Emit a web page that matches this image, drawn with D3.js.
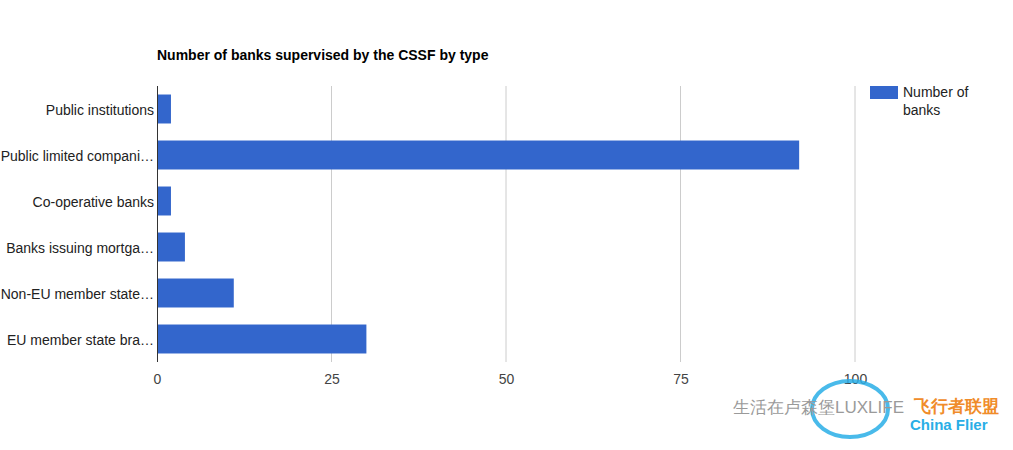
<!DOCTYPE html>
<html>
<head>
<meta charset="utf-8">
<script src="https://cdn.jsdelivr.net/npm/d3@7"></script>
<style>
  body { margin: 0; background: #fff; }
  text { font-family: Arial, "Liberation Sans", sans-serif; }
</style>
</head>
<body>
<div id="chart"></div>
<script>
const categories = [
  "Public institutions",
  "Public limited companies",
  "Co-operative banks",
  "Banks issuing mortgage bonds",
  "Non-EU member state branches",
  "EU member state branches"
];
const shownLabels = [
  "Public institutions",
  "Public limited compani…",
  "Co-operative banks",
  "Banks issuing mortga…",
  "Non-EU member state…",
  "EU member state bra…"
];
const banks = [2, 92, 2, 4, 11, 30];
const xTicks = [0, 25, 50, 75, 100];

const dimensions = {
  width: 1013,
  height: 450,
  margin: { top: 86, left: 157 },
  boundedWidth: 698,
  boundedHeight: 276,
};

const svg = d3.select("#chart")
  .append("svg")
  .attr("width", dimensions.width)
  .attr("height", dimensions.height);

svg.append("text")
  .attr("x", 157)
  .attr("y", 60)
  .attr("font-size", 14)
  .attr("font-weight", "bold")
  .attr("fill", "#000")
  .text("Number of banks supervised by the CSSF by type");

const bounds = svg.append("g")
  .attr("transform", `translate(${dimensions.margin.left},${dimensions.margin.top})`);

const xScale = d3.scaleLinear()
  .domain([0, 100])
  .range([0, dimensions.boundedWidth]);

const yScale = d3.scaleBand()
  .domain(categories)
  .range([0, dimensions.boundedHeight])
  .paddingInner(0.37)
  .paddingOuter(0.185);

// gridlines
bounds.selectAll(".grid")
  .data(xTicks.slice(1))
  .join("line")
  .attr("x1", d => xScale(d))
  .attr("x2", d => xScale(d))
  .attr("y1", 0)
  .attr("y2", dimensions.boundedHeight)
  .attr("stroke", "#cccccc")
  .attr("stroke-width", 1);

bounds.selectAll(".bar")
  .data(banks)
  .join("rect")
  .attr("x", xScale(0))
  .attr("y", (d, i) => yScale(categories[i]))
  .attr("width", d => xScale(d) - xScale(0))
  .attr("height", yScale.bandwidth())
  .attr("fill", "#3366cc");

// baseline
bounds.append("line")
  .attr("x1", 0.5).attr("x2", 0.5)
  .attr("y1", 0).attr("y2", dimensions.boundedHeight)
  .attr("stroke", "#333")
  .attr("stroke-width", 1);

const xAxis = bounds.append("g")
  .attr("transform", `translate(0,${dimensions.boundedHeight})`)
  .call(d3.axisBottom(xScale).tickValues(xTicks).tickSize(0).tickPadding(12));
xAxis.select(".domain").remove();
xAxis.selectAll("text")
  .attr("font-size", 14)
  .attr("fill", "#444")
  .attr("font-family", "Arial, 'Liberation Sans', sans-serif");

const yAxis = bounds.append("g")
  .call(d3.axisLeft(yScale).tickSize(0).tickPadding(3)
    .tickFormat((d, i) => shownLabels[i]));
yAxis.select(".domain").remove();
yAxis.selectAll("text")
  .attr("font-size", 14)
  .attr("fill", "#222")
  .attr("dy", "0.4em")
  .attr("font-family", "Arial, 'Liberation Sans', sans-serif");

// legend
const legend = svg.append("g").attr("transform", "translate(870,86)");
legend.append("rect")
  .attr("width", 28).attr("height", 13)
  .attr("fill", "#3366cc");
legend.append("text")
  .attr("x", 33).attr("y", 11)
  .attr("font-size", 14).attr("fill", "#222")
  .text("Number of");
legend.append("text")
  .attr("x", 33).attr("y", 29)
  .attr("font-size", 14).attr("fill", "#222")
  .text("banks");

// watermark
const wm = svg.append("g");
wm.append("ellipse")
  .attr("cx", 850).attr("cy", 409)
  .attr("rx", 38).attr("ry", 28)
  .attr("fill", "none")
  .attr("stroke", "#29aee6")
  .attr("stroke-width", 4)
  .attr("opacity", 0.85);
wm.append("text")
  .attr("x", 733).attr("y", 413)
  .attr("font-size", 17)
  .attr("fill", "#9a9a9a")
  .attr("font-family", "'Noto Sans CJK SC', sans-serif")
  .text("生活在卢森堡LUXLIFE");
wm.append("text")
  .attr("x", 914).attr("y", 412)
  .attr("font-size", 17)
  .attr("font-weight", "bold")
  .attr("fill", "#f08c2a")
  .attr("font-family", "'Noto Sans CJK SC', sans-serif")
  .text("飞行者联盟");
wm.append("text")
  .attr("x", 910).attr("y", 430)
  .attr("font-size", 15)
  .attr("font-weight", "bold")
  .attr("fill", "#29aee6")
  .attr("font-family", "'DejaVu Sans', sans-serif")
  .text("China Flier");
</script>
</body>
</html>
